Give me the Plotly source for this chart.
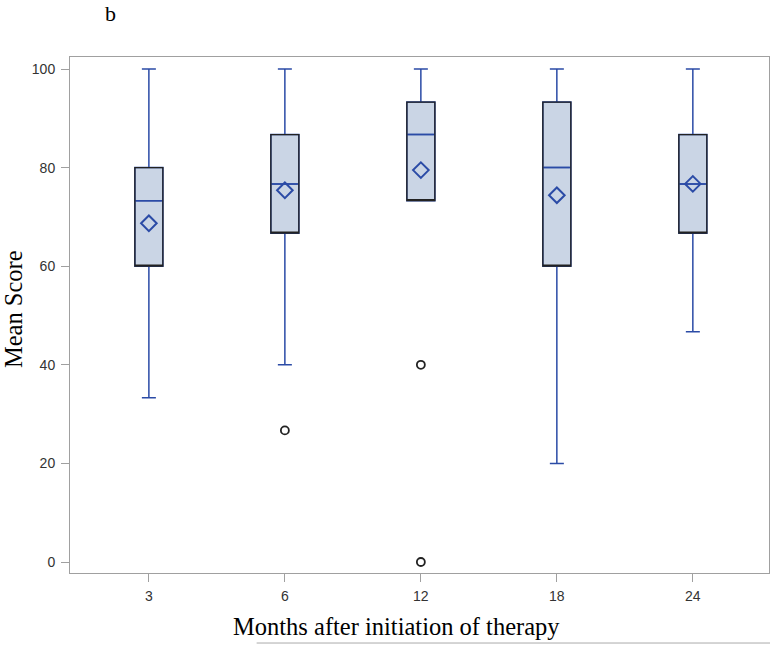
import plotly.graph_objects as go

months = ["3", "6", "12", "18", "24"]
positions = [0, 1, 2, 3, 4]
q1 = [60, 66.7, 73.3, 60, 66.7]
median = [73.3, 76.7, 86.7, 80, 76.7]
q3 = [80, 86.7, 93.3, 93.3, 86.7]
lower = [33.3, 40, 73.3, 20, 46.7]
upper = [100, 100, 100, 100, 100]
means = [68.7, 75.4, 79.5, 74.4, 76.7]
outlier_pos = [1, 2, 2]
outlier_val = [26.7, 40, 0]

BLUE = "#2B4BA6"
FILL = "#CAD5E5"

fig = go.Figure()
# whiskers + median (blue) with fill
fig.add_trace(go.Box(
    x=positions, q1=q1, median=median, q3=q3,
    lowerfence=lower, upperfence=upper,
    width=0.206, whiskerwidth=0.5,
    fillcolor=FILL, line=dict(color=BLUE, width=1.5),
    boxpoints=False, showlegend=False, hoverinfo="skip",
))
# black box outline
fig.add_trace(go.Box(
    x=positions, q1=q1, median=q1, q3=q3,
    lowerfence=q1, upperfence=q3,
    width=0.206, whiskerwidth=0,
    fillcolor="rgba(0,0,0,0)", line=dict(color="#222222", width=1.3),
    boxpoints=False, showlegend=False, hoverinfo="skip",
))
# redraw median on top in blue
fig.add_trace(go.Box(
    x=positions, q1=median, median=median, q3=median,
    lowerfence=median, upperfence=median,
    width=0.19, whiskerwidth=0,
    fillcolor="rgba(0,0,0,0)", line=dict(color=BLUE, width=1.5),
    boxpoints=False, showlegend=False, hoverinfo="skip",
))
fig.add_trace(go.Scatter(
    x=positions, y=means, mode="markers",
    marker=dict(symbol="diamond-open", size=12, color=BLUE, line=dict(width=2, color=BLUE)),
    showlegend=False,
))
fig.add_trace(go.Scatter(
    x=outlier_pos, y=outlier_val, mode="markers",
    marker=dict(symbol="circle-open", size=8, color="#222222", line=dict(width=1.8, color="#222222")),
    showlegend=False,
))

axis_common = dict(
    showline=True, linecolor="#A0A0A0", linewidth=1, mirror=True,
    ticks="outside", ticklen=8, tickcolor="#A0A0A0", tickwidth=1,
    showgrid=False, zeroline=False,
    tickfont=dict(family="Liberation Sans, Arial, sans-serif", size=14, color="#333333"),
)

fig.update_layout(
    width=770, height=645,
    margin=dict(l=70, r=1, t=57, b=72),
    paper_bgcolor="white", plot_bgcolor="white",
    boxmode="overlay",
    xaxis=dict(range=[-0.58, 4.56], tickvals=positions, ticktext=months,
               ticklabelstandoff=2, **axis_common),
    yaxis=dict(range=[-2.23, 102.44], tickvals=[0, 20, 40, 60, 80, 100],
               ticklabelstandoff=3, **axis_common),
    annotations=[
        dict(text="Mean Score", xref="paper", yref="paper", x=-0.0815, y=0.5116,
             xanchor="center", yanchor="middle", textangle=-90, showarrow=False,
             font=dict(family="Liberation Serif, Times New Roman, serif", size=24.5, color="black")),
        dict(text="Months after initiation of therapy", xref="paper", yref="paper",
             x=0.467, y=-0.104, xanchor="center", yanchor="middle", showarrow=False,
             font=dict(family="Liberation Serif, Times New Roman, serif", size=24.5, color="black")),
        dict(text="b", xref="paper", yref="paper", x=0.0576, y=1.085,
             xanchor="center", yanchor="middle", showarrow=False,
             font=dict(family="Liberation Serif, Times New Roman, serif", size=22, color="black")),
    ],
    shapes=[
        dict(type="line", xref="paper", yref="paper", x0=0.267, x1=1.01, y0=-0.1357, y1=-0.1357,
             line=dict(color="#AAAAAA", width=1)),
    ],
)

fig.write_html("out.html", config={"displayModeBar": False},
               post_script="document.body.style.margin='0';document.body.style.overflow='hidden';")
